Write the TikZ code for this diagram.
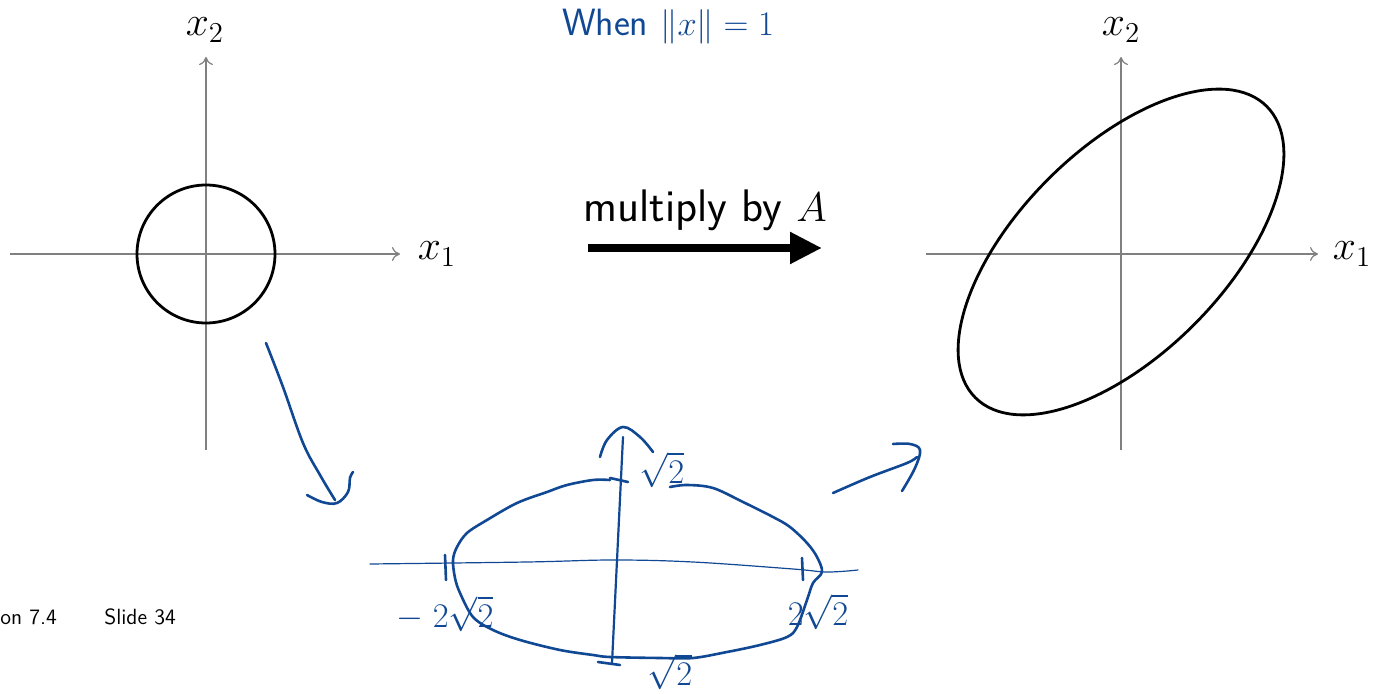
\documentclass[tikz,border=0pt]{standalone}
\usepackage{amsmath}
\usetikzlibrary{arrows.meta}
\definecolor{ink}{RGB}{16,72,148}
\definecolor{axisgray}{gray}{0.5}
\begin{document}
\begin{tikzpicture}[x=0.5pt,y=-0.5pt,
  axisline/.style={draw=axisgray, line width=0.6pt, -{To[length=4pt,width=7pt]}},
  curveline/.style={draw=black, line width=1.4pt},
  axlabel/.style={inner sep=0pt, font=\fontsize{21}{25}\selectfont},
  inkline/.style={draw=ink, line width=1.3pt, line cap=round, line join=round},
  inkthin/.style={draw=ink, line width=0.6pt, line cap=round},
  inklabel/.style={text=ink, inner sep=0pt, font=\fontsize{16}{18}\selectfont},
  footer/.style={inner sep=0pt, font=\sffamily\fontsize{11}{13}\selectfont}]
\useasboundingbox (0,0) rectangle (1374,694);
% left axes
\coordinate (LO) at (206,254);
\coordinate (LxS) at (10,254);
\coordinate (LxE) at (400,254);
\coordinate (LyS) at (206,450);
\coordinate (LyE) at (206,57);
\draw[axisline] (LxS) -- (LxE);
\draw[axisline] (LyS) -- (LyE);
\node[axlabel] (Lx1) at (437,254) {$x_1$};
\node[axlabel] (Lx2) at (205,30) {$x_2$};
\draw[curveline] (LO) circle[radius=69];
% right axes
\coordinate (RO) at (1121,254);
\coordinate (RxS) at (926,254);
\coordinate (RxE) at (1318,254);
\coordinate (RyS) at (1121,450);
\coordinate (RyE) at (1121,57);
\draw[axisline] (RxS) -- (RxE);
\draw[axisline] (RyS) -- (RyE);
\node[axlabel] (Rx1) at (1352,254) {$x_1$};
\node[axlabel] (Rx2) at (1121,30) {$x_2$};
\coordinate (EC) at (1121,252);
\draw[curveline, rotate around={45:(EC)}] (EC) ellipse[x radius=206, y radius=103];
% big arrow
\coordinate (AS) at (588,248);
\coordinate (AE) at (822,248);
\draw[line width=4pt, -{Triangle[length=16pt,width=15pt]}] (AS) -- (AE);
\node[inner sep=0pt, font=\sffamily\fontsize{22.8}{26}\selectfont] (mult) at (705,210) {multiply by $A$};
% footer
\node[footer, anchor=west] (foot1) at (0,617) {on 7.4};
\node[footer, anchor=west] (foot2) at (104,617) {Slide 34};
% handwriting
\node[text=ink, inner sep=0pt, font=\sffamily\fontsize{19}{21}\selectfont] (when) at (668,27) {When $\|x\|=1$};
\draw[inkline] plot[smooth, tension=0.6] coordinates {(266,343) (283,387) (303,443) (320,475) (335,500)};
\draw[inkline] plot[smooth, tension=0.6] coordinates {(307,495) (322,502) (337,503) (348,492) (350,478) (353,472)};
\draw[inkline] plot[smooth, tension=0.6] coordinates {(833,493) (870,477) (907,463) (917,457)};
\draw[inkline] plot[smooth, tension=0.6] coordinates {(893,444) (910,444) (920,450) (915,468) (902,491)};
% hand ellipse
\draw[inkline] plot[smooth, tension=0.55] coordinates {(610,480) (593,480) (567,485) (547,492) (517,503) (487,520) (467,533) (457,547) (453,560) (455,578) (460,593) (473,617) (493,630) (520,640) (560,650) (593,655) (610,657) (660,658) (693,658) (727,652) (760,645) (787,637) (797,627) (807,600) (813,583) (822,572) (817,557) (807,543) (790,527) (773,517) (743,502) (713,488) (687,485) (670,487)};
\draw[inkthin] plot[smooth, tension=0.6] coordinates {(370,564) (527,562) (613,560) (693,562) (793,569) (827,572) (858,570)};
\coordinate (VB) at (612,663);
\coordinate (VT) at (623,437);
\draw[inkline, line width=1.1pt] (VB) -- (VT);
\draw[inkline] plot[smooth, tension=0.6] coordinates {(600,457) (607,440) (623,427) (640,437) (653,452)};
\coordinate (t1a) at (445,555); \coordinate (t1b) at (446,580);
\coordinate (t2a) at (802,558); \coordinate (t2b) at (803,580);
\coordinate (t3a) at (610,478); \coordinate (t3b) at (628,482);
\coordinate (t4a) at (598,662); \coordinate (t4b) at (620,665);
\draw[inkline] (t1a) -- (t1b);
\draw[inkline] (t2a) -- (t2b);
\draw[inkline] (t3a) -- (t3b);
\draw[inkline] (t4a) -- (t4b);
\node[inklabel] (lt) at (662,470) {$\sqrt{2}$};
\node[inklabel] (ll) at (445,614) {$-\;2\sqrt{2}$};
\node[inklabel] (lr) at (818,612) {$2\sqrt{2}$};
\node[inklabel] (lb) at (670,672) {$\sqrt{2}$};
\end{tikzpicture}
\end{document}
